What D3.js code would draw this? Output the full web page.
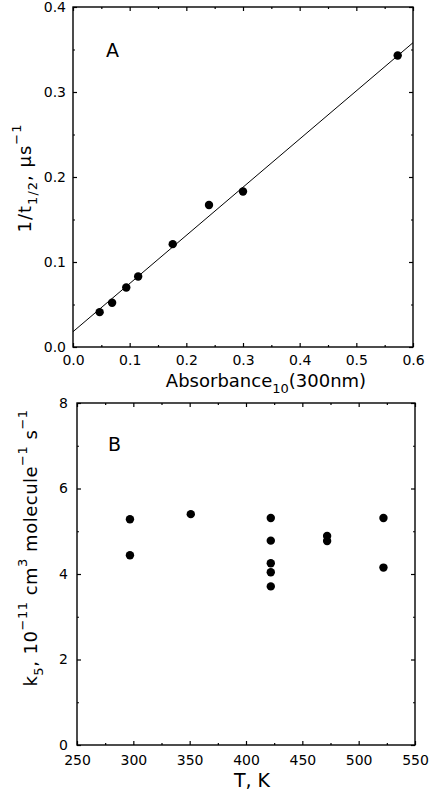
<!DOCTYPE html>
<html lang="en">
<head>
<meta charset="utf-8">
<title>Absorbance and k5 plots</title>
<script src="https://d3js.org/d3.v7.min.js"></script>
<style>
    *{
        margin: 0px;
        padding: 0px;
    }
    body{
        background-color: white;
    }
    text{
        font-family: 'DejaVu Sans', sans-serif;
        fill: black;
    }
</style>
</head>
<body>
<div id="chart"></div>
<script>
// panel A data
const absorbance = [0.047, 0.069, 0.094, 0.115, 0.176, 0.240, 0.300, 0.573];
const invHalfLife = [0.041, 0.052, 0.070, 0.083, 0.121, 0.167, 0.183, 0.343];
const fitX = [0, 0.6];
const fitY = [0.018, 0.358];
const xTicksA = [0, 0.1, 0.2, 0.3, 0.4, 0.5, 0.6];
const xMinorA = [0.05, 0.15, 0.25, 0.35, 0.45, 0.55];
const yTicksA = [0, 0.1, 0.2, 0.3, 0.4];
const yMinorA = [0.05, 0.15, 0.25, 0.35];

// panel B data
const tempK = [297, 297, 351, 422, 422, 422, 422, 422, 472, 472, 522, 522];
const k5 = [5.28, 4.44, 5.40, 5.31, 4.78, 4.25, 4.04, 3.71, 4.89, 4.77, 5.31, 4.15];
const xTicksB = [250, 300, 350, 400, 450, 500, 550];
const xMinorB = [275, 325, 375, 425, 475, 525];
const yTicksB = [0, 2, 4, 6, 8];
const yMinorB = [1, 3, 5, 7];

var width = 432;
var height = 790;

const svg = d3.select('#chart')
    .append('svg')
    .attr('width', width)
    .attr('height', height);

svg.append('rect')
    .attr('width', width)
    .attr('height', height)
    .attr('fill', 'white');

// draws frame, ticks on all four sides and tick labels
function drawFrame(x, y, opt){
    var g = svg.append('g');
    var x0 = x.range()[0], x1 = x.range()[1];
    var y0 = y.range()[0], y1 = y.range()[1];

    var axes = [
        [d3.axisBottom, y0, 'x', true],
        [d3.axisTop, y1, 'x', false],
        [d3.axisLeft, x0, 'y', true],
        [d3.axisRight, x1, 'y', false]
    ];
    axes.forEach(function(a){
        var make = a[0], pos = a[1], dir = a[2], lab = a[3];
        var sc = dir == 'x' ? x : y;
        var tr = dir == 'x' ? 'translate(0,' + pos + ')' : 'translate(' + pos + ',0)';
        // major
        var major = g.append('g')
            .attr('transform', tr)
            .call(make(sc).tickValues(dir == 'x' ? opt.xTicks : opt.yTicks)
                .tickSize(-4)
                .tickPadding(dir == 'x' ? opt.xPad : opt.yPad)
                .tickFormat(lab ? (dir == 'x' ? opt.xFmt : opt.yFmt) : ''));
        major.select('.domain').remove();
        major.selectAll('text')
            .style('font-family', "'DejaVu Sans', sans-serif")
            .style('font-size', '14px');
        major.selectAll('line').attr('stroke-width', 1.2);
        // minor
        var minor = g.append('g')
            .attr('transform', tr)
            .call(make(sc).tickValues(dir == 'x' ? opt.xMinor : opt.yMinor)
                .tickSize(-2)
                .tickFormat(''));
        minor.select('.domain').remove();
        minor.selectAll('line').attr('stroke-width', 1.2);
    });

    g.append('rect')
        .attr('x', x0)
        .attr('y', y1)
        .attr('width', x1 - x0)
        .attr('height', y0 - y1)
        .attr('fill', 'none')
        .attr('stroke', 'black')
        .attr('stroke-width', 1.4);
}

// text with sub/superscripts: parts = [[text, 'n'|'sub'|'sup'], ...]
function richText(sel, parts, size, small){
    var shift = 0;
    parts.forEach(function(p){
        var target = p[1] == 'sub' ? 6 : (p[1] == 'sup' ? -10 : 0);
        sel.append('tspan')
            .attr('dy', target - shift)
            .style('font-size', (p[1] == 'n' ? size : small) + 'px')
            .text(p[0]);
        shift = target;
    });
}

/*------------------- PANEL A --------------*/
var xA = d3.scaleLinear().domain([0, 0.6]).range([73, 413]);
var yA = d3.scaleLinear().domain([0, 0.4]).range([347, 7]);

drawFrame(xA, yA, {
    xTicks: xTicksA, xMinor: xMinorA, yTicks: yTicksA, yMinor: yMinorA,
    xFmt: d3.format('.1f'), yFmt: d3.format('.1f'), xPad: 8, yPad: 7
});

svg.append('line')
    .attr('x1', xA(fitX[0]))
    .attr('y1', yA(fitY[0]))
    .attr('x2', xA(fitX[1]))
    .attr('y2', yA(fitY[1]))
    .attr('stroke', 'black')
    .attr('stroke-width', 1);

svg.append('g')
    .selectAll('circle')
    .data(absorbance)
    .enter()
    .append('circle')
    .attr('cx', function(d){ return xA(d); })
    .attr('cy', function(d, i){ return yA(invHalfLife[i]); })
    .attr('r', 4.2)
    .attr('fill', 'black');

svg.append('text')
    .attr('x', 106)
    .attr('y', 57)
    .style('font-size', '19px')
    .text('A');

var xtA = svg.append('text')
    .attr('x', 266)
    .attr('y', 387)
    .attr('text-anchor', 'middle');
richText(xtA, [['Absorbance', 'n'], ['10', 'sub'], ['(300nm)', 'n']], 18, 13);

var ytA = svg.append('text')
    .attr('transform', 'translate(31,178) rotate(-90)')
    .attr('text-anchor', 'middle')
    .attr('letter-spacing', 1);
richText(ytA, [['1/t', 'n'], ['1/2', 'sub'], [', \u03bcs', 'n'], ['\u22121', 'sup']], 18, 13);

/*------------------- PANEL B --------------*/
var xB = d3.scaleLinear().domain([250, 550]).range([77, 415]);
var yB = d3.scaleLinear().domain([0, 8]).range([745, 403]);

drawFrame(xB, yB, {
    xTicks: xTicksB, xMinor: xMinorB, yTicks: yTicksB, yMinor: yMinorB,
    xFmt: d3.format('d'), yFmt: d3.format('d'), xPad: 10, yPad: 9
});

svg.append('g')
    .selectAll('circle')
    .data(tempK)
    .enter()
    .append('circle')
    .attr('cx', function(d){ return xB(d); })
    .attr('cy', function(d, i){ return yB(k5[i]); })
    .attr('r', 4.2)
    .attr('fill', 'black');

svg.append('text')
    .attr('x', 108)
    .attr('y', 451)
    .style('font-size', '19px')
    .text('B');

svg.append('text')
    .attr('x', 252)
    .attr('y', 787)
    .attr('text-anchor', 'middle')
    .style('font-size', '19px')
    .text('T, K');

var ytB = svg.append('text')
    .attr('transform', 'translate(37,548) rotate(-90)')
    .attr('text-anchor', 'middle')
    .attr('letter-spacing', 0.5);
richText(ytB, [['k', 'n'], ['5', 'sub'], [', 10', 'n'], ['\u221211', 'sup'], [' cm', 'n'], ['3', 'sup'],
    [' molecule', 'n'], ['\u22121', 'sup'], [' s', 'n'], ['\u22121', 'sup']], 18, 13);
</script>
</body>
</html>
